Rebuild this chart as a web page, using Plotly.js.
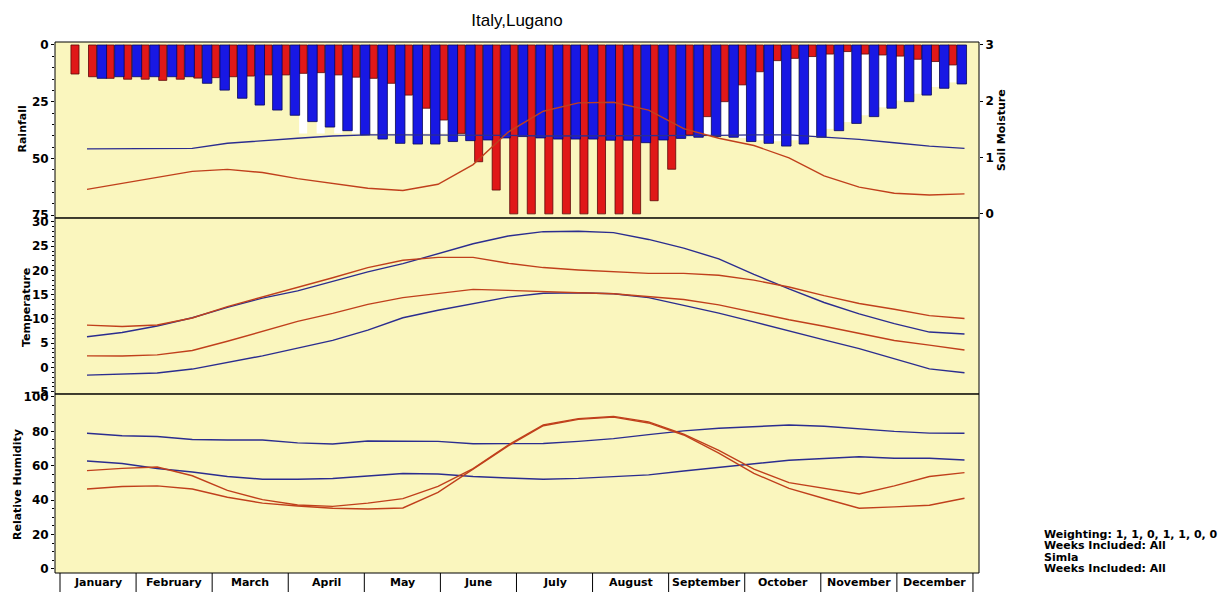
<!DOCTYPE html>
<html><head><meta charset="utf-8">
<script src="https://cdn.plot.ly/plotly-3.0.1.min.js"></script>
<style>html,body{margin:0;padding:0;background:#fff}</style>
</head><body><div id="chart" style="width:1223px;height:592px"></div>
<script>
// ---------------- data ----------------
const months = ["January","February","March","April","May","June","July","August","September","October","November","December"];
const weeks = [1,2,3,4,5,6,7,8,9,10,11,12,13,14,15,16,17,18,19,20,21,22,23,24,25,26,27,28,29,30,31,32,33,34,35,36,37,38,39,40,41,42,43,44,45,46,47,48,49,50,51];
const rainRed = [12.8,14.0,14.7,15.1,15.1,15.6,15.1,14.6,14.4,14.0,13.7,13.2,13.2,12.5,12.2,13.2,14.2,14.7,16.9,22.1,27.9,33.1,39.0,51.5,64.0,74.5,74.5,74.5,74.5,74.5,74.5,74.5,74.5,68.7,54.8,39.7,31.6,25.0,17.6,11.8,6.9,5.9,5.1,4.0,2.9,4.0,4.4,4.9,6.3,7.3,8.8];
const rainBlue = [null,14.7,14.0,14.0,14.0,14.0,14.0,16.9,19.9,23.5,26.5,28.7,31.0,33.8,36.2,37.8,39.7,41.5,43.4,43.7,43.7,42.6,42.2,41.9,41.0,40.4,41.0,41.5,41.5,41.5,42.0,42.0,43.1,41.9,41.2,40.7,40.4,40.7,42.6,43.4,44.6,43.7,40.7,37.8,34.6,31.6,27.9,25.0,22.1,19.1,17.2];
const rainWhite = [null,null,null,null,null,null,null,null,null,null,null,null,null,39,39,39,39,39,39,39,39,39,39,40,40,40,40,40,40,40,40,40,40,40,40,40,40,40,41,42,42.5,42,40,37,34,31,27.5,24.5,21.5,18.5,16.5];
const lineWeeks = [1,3,5,7,9,11,13,15,17,19,21,23,25,27,29,31,33,35,37,39,41,43,45,47,49,51];
const soilBlue = [1.15,1.15,1.15,1.16,1.25,1.30,1.34,1.38,1.40,1.40,1.40,1.40,1.39,1.38,1.38,1.38,1.38,1.38,1.39,1.40,1.40,1.36,1.32,1.26,1.20,1.16];
const soilRed = [0.43,0.54,0.65,0.75,0.785,0.73,0.62,0.53,0.45,0.41,0.52,0.87,1.45,1.82,1.97,1.98,1.84,1.51,1.34,1.21,0.99,0.67,0.47,0.36,0.33,0.35];
const tempMaxBlue = [6.33,7.2,8.56,10.25,12.4,14.3,15.8,17.7,19.7,21.4,23.4,25.5,27.1,28.0,28.1,27.8,26.4,24.6,22.4,19.2,16.2,13.4,11.05,9.05,7.3,6.9];
const tempMaxRed = [8.74,8.45,8.75,10.2,12.55,14.5,16.6,18.5,20.6,22.1,22.7,22.7,21.5,20.6,20.1,19.7,19.4,19.4,19.0,18.0,16.6,14.8,13.2,12.0,10.7,10.1];
const tempMinRed = [2.4,2.35,2.6,3.5,5.4,7.5,9.5,11.15,13.0,14.4,15.2,16.1,15.9,15.6,15.4,15.2,14.6,14.0,12.9,11.3,9.85,8.5,7.0,5.55,4.6,3.6];
const tempMinBlue = [-1.57,-1.36,-1.13,-0.33,1.05,2.4,4.0,5.6,7.7,10.25,11.8,13.2,14.5,15.3,15.4,15.2,14.4,12.8,11.2,9.4,7.5,5.7,3.9,1.8,-0.3,-1.1];
const rhBlueHigh = [78.9,77.5,77.0,75.3,75.0,75.0,73.3,72.7,74.4,74.2,74.2,72.8,72.8,73.0,74.2,75.8,78.1,80.3,81.8,82.7,83.7,83.0,81.5,80.0,79.0,78.9];
const rhBlueLow = [62.8,61.3,58.4,56.4,53.8,52.2,52.2,52.6,54.1,55.5,55.2,53.8,52.9,52.2,52.7,53.8,54.7,57.0,59.1,61.0,63.2,64.2,65.3,64.4,64.4,63.4];
const rhRedA = [57.2,58.5,59.3,54.2,45.7,40.3,37.2,36.4,38.3,40.9,48.0,58.4,72.1,83.8,87.4,88.7,85.5,78.4,68.9,58.0,50.2,46.9,43.6,48.3,53.8,56.0];
const rhRedB = [46.5,48.0,48.3,46.5,41.7,38.3,36.6,35.3,34.9,35.5,44.5,58.0,71.6,83.3,87.0,88.3,84.9,77.9,67.4,55.6,46.9,41.0,35.3,36.1,37.1,41.1];
const infoLines = ["Weighting: 1, 1, 0, 1, 1, 0, 0","Weeks Included: All","Simla","Weeks Included: All"];

// ---------------- layout constants ----------------
const RED_OFF = -0.684, BLUE_OFF = -0.154;
const RED_W = 0.46, BLUE_W = 0.54;
const M_START = -0.538, M_WIDTH = 4.335;
const BLUE = '#2B2D8F', RED = '#C0401C';
const BG = '#FAF6BE';
const tickFont = {family:'DejaVu Sans', size:12, weight:'bold', color:'#000'};
const boldFont = {family:'DejaVu Sans', size:11, weight:'bold', color:'#000'};
const D1 = [0.66855, 1], D2 = [0.33710, 0.66855], D3 = [0, 0.33710];

function line(x, y, ya, color){
  return {type:'scatter', mode:'lines', x:x, y:y, xaxis:'x', yaxis:ya,
          line:{color:color, width:1.4}, hoverinfo:'skip'};
}

const data = [
  {type:'bar', x:weeks.map(w=>w+RED_OFF), y:rainWhite, width:RED_W, xaxis:'x', yaxis:'y',
   marker:{color:'#FFFFFF', line:{width:0}}},
  {type:'bar', x:weeks.map(w=>w+RED_OFF), y:rainRed, width:RED_W, xaxis:'x', yaxis:'y',
   marker:{color:'#E01818', line:{color:'#5A0808', width:0.8}}},
  {type:'bar', x:weeks.map(w=>w+BLUE_OFF), y:rainBlue, width:BLUE_W, xaxis:'x', yaxis:'y',
   marker:{color:'#1818E4', line:{color:'#08085A', width:0.8}}},
  line(lineWeeks, soilBlue, 'y2', BLUE),
  line(lineWeeks, soilRed, 'y2', RED),
  line(lineWeeks, tempMaxBlue, 'y3', BLUE),
  line(lineWeeks, tempMinBlue, 'y3', BLUE),
  line(lineWeeks, tempMaxRed, 'y3', RED),
  line(lineWeeks, tempMinRed, 'y3', RED),
  line(lineWeeks, rhBlueHigh, 'y4', BLUE),
  line(lineWeeks, rhBlueLow, 'y4', BLUE),
  line(lineWeeks, rhRedA, 'y4', RED),
  line(lineWeeks, rhRedB, 'y4', RED)
];

const yCommon = {showgrid:false, zeroline:false, showline:false, ticks:'outside', ticklen:3,
                 tickcolor:'#000', tickfont:tickFont, fixedrange:true};

const shapes = [];
[D1, D2, D3].forEach(d => shapes.push({type:'rect', xref:'paper', yref:'paper', x0:0, x1:1, y0:d[0], y1:d[1],
  line:{color:'#000', width:1}, fillcolor:'rgba(0,0,0,0)', layer:'above'}));
for (let k = 0; k <= months.length; k++) {
  const xv = M_START + k*M_WIDTH;
  shapes.push({type:'line', xref:'x', yref:'paper', x0:xv, x1:xv, y0:0, y1:-0.04, line:{color:'#000', width:1}});
}

const annotations = [];
months.forEach((m,k) => annotations.push({xref:'x', yref:'paper', x:M_START+(k+0.5)*M_WIDTH, y:-0.0188,
  text:m, showarrow:false, xanchor:'center', yanchor:'middle', font:boldFont}));
const titles = [["Rainfall",-0.0357,0.8352],["Temperature",-0.0314,0.5009],["Relative Humidity",-0.0411,0.1657],["Soil Moisture",1.0249,0.8343]];
titles.forEach(t => annotations.push({xref:'paper', yref:'paper', x:t[1], y:t[2], text:t[0], textangle:-90,
  showarrow:false, xanchor:'center', yanchor:'middle', font:boldFont}));
const infoY = [534, 545.5, 557, 568.5];
infoLines.forEach((s,i) => annotations.push({xref:'paper', yref:'paper', x:1.0682, y:(573-infoY[i])/531,
  text:s, showarrow:false, xanchor:'left', yanchor:'middle', align:'left', font:boldFont}));

const layout = {
  width:1223, height:592,
  margin:{l:55, r:244, t:42, b:19, pad:0},
  paper_bgcolor:'#FFFFFF', plot_bgcolor:BG,
  showlegend:false, barmode:'overlay', hovermode:false,
  title:{text:'Italy,Lugano', font:{family:'Liberation Sans', size:17, color:'#000'},
         x:0.5, xref:'paper', y:1-20/592, yref:'container', yanchor:'middle'},
  xaxis:{range:[-0.823, 51.826], anchor:'y4', showgrid:false, zeroline:false, showline:false,
         showticklabels:false, ticks:'', fixedrange:true},
  yaxis:Object.assign({}, yCommon, {domain:D1, range:[76.32, -1.32], tickvals:[0,25,50,75],
         minor:{ticks:'outside', ticklen:2, dtick:5, tickcolor:'#000'}}),
  yaxis2:Object.assign({}, yCommon, {overlaying:'y', side:'right', anchor:'x', range:[-0.08, 3.053],
         tickvals:[0,1,2,3]}),
  yaxis3:Object.assign({}, yCommon, {domain:D2, anchor:'x', range:[-5.47, 30.82], tickvals:[-5,0,5,10,15,20,25,30],
         minor:{ticks:'outside', ticklen:2, dtick:1, tickcolor:'#000'}}),
  yaxis4:Object.assign({}, yCommon, {domain:D3, anchor:'x', range:[-2.33, 101.74], tickvals:[0,20,40,60,80,100],
         minor:{ticks:'outside', ticklen:2, dtick:5, tickcolor:'#000'}}),
  shapes:shapes, annotations:annotations
};

Plotly.newPlot('chart', data, layout, {staticPlot:true, displayModeBar:false});
</script></body></html>
